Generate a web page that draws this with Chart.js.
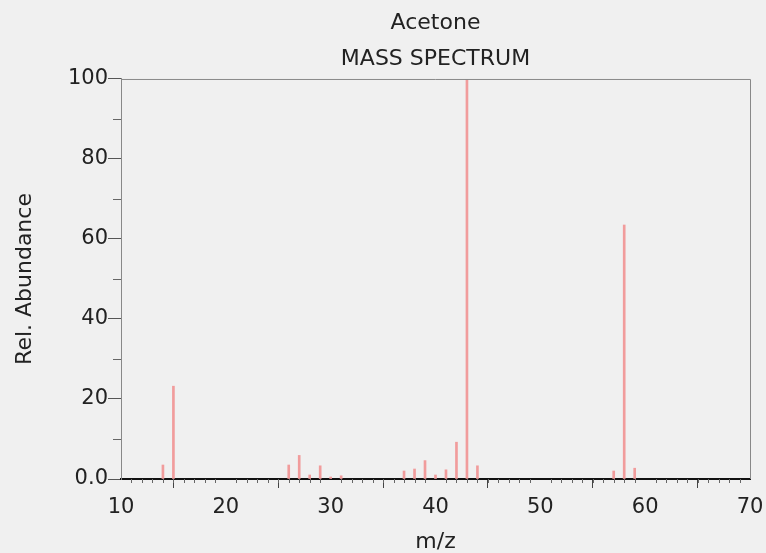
<!DOCTYPE html>
<html>
<head>
<meta charset="utf-8">
<script src="https://cdn.jsdelivr.net/npm/chart.js@4"></script>
<style>
  html, body { margin: 0; padding: 0; background: #f0f0f0; }
  #wrap { width: 766px; height: 553px; }
</style>
</head>
<body>
<div id="wrap"><canvas id="spectrum"></canvas></div>
<script>
// m/z values and relative abundances
const mz = [14, 15, 26, 27, 28, 29, 30, 31, 37, 38, 39, 40, 41, 42, 43, 44, 57, 58, 59];
const abundance = [3.5, 23.2, 3.5, 5.9, 1.0, 3.3, 0.5, 0.8, 2.0, 2.5, 4.6, 1.0, 2.3, 9.2, 100, 3.3, 2.0, 63.5, 2.7];
const xTicks = [10, 20, 30, 40, 50, 60, 70];
const yTicks = [0, 20, 40, 60, 80, 100];

const tickFont = { family: 'DejaVu Sans', size: 21 };
const textColor = '#222';

// minor tick marks + frame on top/right
const frame = {
    id: 'frame',
    afterDraw(chart) {
        const { ctx, chartArea: a, scales: { x, y } } = chart;
        ctx.save();
        ctx.strokeStyle = '#888';
        ctx.lineWidth = 1;
        ctx.beginPath();
        ctx.moveTo(a.left, a.top + 0.5);
        ctx.lineTo(a.right + 0.5, a.top + 0.5);
        ctx.lineTo(a.right + 0.5, a.bottom);
        ctx.stroke();

        ctx.strokeStyle = '#666';
        ctx.beginPath();
        for (let v = 10; v < 100; v += 20) {
            const py = Math.round(y.getPixelForValue(v)) + 0.5;
            ctx.moveTo(a.left - 8, py);
            ctx.lineTo(a.left, py);
        }
        for (let v = 11; v < 70; v++) {
            if (v % 10 === 0) continue;
            const px = Math.round(x.getPixelForValue(v)) + 0.5;
            ctx.moveTo(px, a.bottom);
            ctx.lineTo(px, a.bottom + 4);
        }
        ctx.stroke();
        ctx.restore();
    }
};

new Chart(document.getElementById('spectrum'), {
    type: 'bar',
    data: {
        datasets: [{
            data: mz.map((m, i) => ({ x: m, y: abundance[i] })),
            backgroundColor: '#f19c9c',
            barThickness: 2
        }]
    },
    options: {
        responsive: true,
        maintainAspectRatio: false,
        animation: false,
        layout: { padding: { left: 0, right: 16, top: 0, bottom: 0 } },
        plugins: {
            legend: { display: false },
            tooltip: { enabled: false },
            title: {
                display: true,
                fullSize: false,
                text: ['Acetone', 'MASS SPECTRUM'],
                color: textColor,
                font: { family: 'DejaVu Sans', size: 22, weight: 'normal', lineHeight: 1.636 },
                padding: { top: 5, bottom: 2 }
            }
        },
        scales: {
            x: {
                type: 'linear',
                min: 10,
                max: 70,
                offset: false,
                afterBuildTicks: s => { s.ticks = xTicks.map(v => ({ value: v })); },
                afterFit: s => { s.height = 74; s.paddingLeft = 0; s.paddingRight = 0; },
                border: { color: '#111', width: 2 },
                grid: { drawOnChartArea: false, tickLength: 9, tickColor: '#444' },
                ticks: { color: textColor, font: tickFont, padding: 7, maxRotation: 0 },
                title: {
                    display: true, text: 'm/z', color: textColor,
                    font: { family: 'DejaVu Sans', size: 22, lineHeight: 1 },
                    padding: { top: 0, bottom: 0 }
                }
            },
            y: {
                min: 0,
                max: 100,
                afterBuildTicks: s => { s.ticks = yTicks.map(v => ({ value: v })); },
                afterFit: s => { s.width = 121; s.paddingTop = 0; s.paddingBottom = 0; },
                border: { color: '#888', width: 1 },
                grid: { drawOnChartArea: false, tickLength: 13, tickColor: '#555' },
                ticks: {
                    color: textColor, font: tickFont, padding: 0,
                    callback: v => v === 0 ? '0.0' : v
                },
                title: {
                    display: true, text: 'Rel. Abundance', color: textColor,
                    font: { family: 'DejaVu Sans', size: 22 },
                    padding: { top: 12, bottom: 0 }
                }
            }
        }
    },
    plugins: [frame]
});
</script>
</body>
</html>
